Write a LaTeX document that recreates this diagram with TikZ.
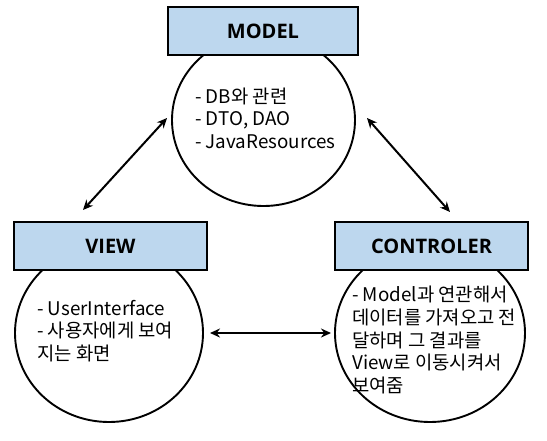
\documentclass[tikz,border=0pt]{standalone}
\usepackage{fontspec}
\setmainfont{Noto Sans CJK KR}
\newfontfamily\headfont{Open Sans}
\usetikzlibrary{shapes.geometric,arrows.meta}
\definecolor{boxblue}{HTML}{BDD7EE}
\tikzset{
  bubble/.style={ellipse, draw, line width=1.9pt, fill=white, inner sep=0pt},
  headbox/.style={rectangle, draw, line width=2.9pt, fill=boxblue, minimum height=48pt, font=\headfont\fontsize{20}{24}\selectfont\bfseries},
  bodytext/.style={align=left, inner sep=0pt, font=\fontsize{18.8}{22.6}\selectfont},
  link/.style={line width=2pt, {Stealth[length=10pt,width=9pt]}-{Stealth[length=10pt,width=9pt]}}
}
\begin{document}
\begin{tikzpicture}[x=1pt,y=-1pt]
\useasboundingbox (0,0) rectangle (547,440);
% circles
\node[bubble, minimum width=183pt, minimum height=172pt] (mc) at (263.5,120) {};
\node[bubble, minimum width=188pt, minimum height=178pt] (vc) at (109,333) {};
\node[bubble, minimum width=190pt, minimum height=178pt] (cc) at (430,333) {};
% header boxes
\node[headbox, minimum width=190pt] (mb) at (263,31) {MODEL};
\node[headbox, minimum width=193pt] (vb) at (110.5,246) {VIEW};
\node[headbox, minimum width=193pt] (cb) at (431.5,246) {CONTROLER};
% texts
\node[bodytext, anchor=west] (mt) at (195,118) {- DB와 관련\\- DTO, DAO\\- JavaResources};
\node[bodytext, anchor=west] (vt) at (37,331) {- UserInterface\\- 사용자에게 보여\\지는 화면};
\node[bodytext, anchor=west] (ct) at (352,340) {- Model과 연관해서\\데이터를 가져오고 전\\달하며 그 결과를\\View로 이동시켜서\\보여줌};
% arrow end points
\coordinate (a1) at (167,118);
\coordinate (a2) at (83,210);
\coordinate (b1) at (367,118);
\coordinate (b2) at (450,212);
\coordinate (c1) at (210,333);
\coordinate (c2) at (331,333);
\draw[link] (a1) -- (a2);
\draw[link] (b1) -- (b2);
\draw[link] (c1) -- (c2);
\end{tikzpicture}
\end{document}
